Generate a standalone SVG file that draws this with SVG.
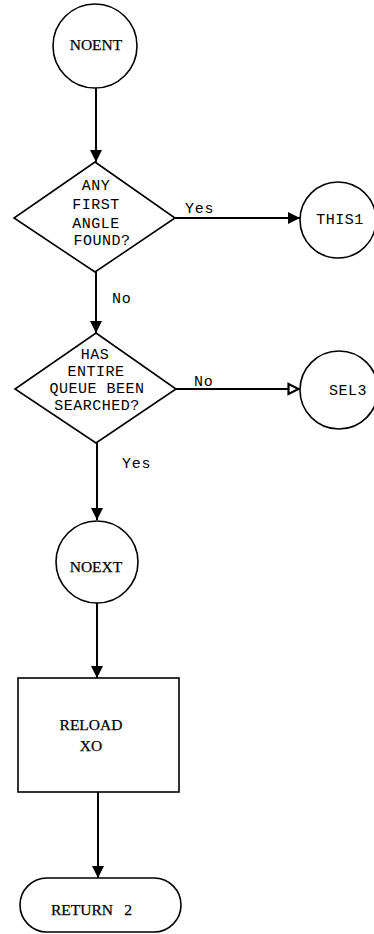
<svg xmlns="http://www.w3.org/2000/svg" width="374" height="934" viewBox="0 0 374 934">
<style>
.shape{fill:#fff;stroke:#000;stroke-width:1.6}
.line{fill:none;stroke:#000;stroke-width:2}
.mono{font-family:"Liberation Mono","DejaVu Sans Mono",monospace;font-size:15px;letter-spacing:0.5px;fill:#000;text-anchor:middle}
.serif{font-family:"Liberation Serif","DejaVu Serif",serif;font-size:15.5px;fill:#000;stroke:#000;stroke-width:0.25;text-anchor:middle}
.lbl{font-family:"Liberation Mono","DejaVu Sans Mono",monospace;font-size:15px;letter-spacing:0.8px;fill:#000}
</style>
<defs>
<marker id="arr" markerUnits="userSpaceOnUse" markerWidth="13" markerHeight="13" refX="12" refY="6.5" orient="auto">
<path d="M0,0.5 L12,6.5 L0,12.5 z" fill="#000"/>
</marker>
<marker id="open" markerUnits="userSpaceOnUse" markerWidth="14" markerHeight="14" refX="12" refY="7" orient="auto">
<path d="M1.5,2 L11.5,7 L1.5,12 z" fill="#fff" stroke="#000" stroke-width="2.2"/>
</marker>
</defs>
<g id="connectors">
<line class="line" x1="96" y1="88" x2="96" y2="162" marker-end="url(#arr)"/>
<line class="line" x1="175" y1="218" x2="300" y2="218" marker-end="url(#arr)"/>
<text class="lbl" x="185" y="213">Yes</text>
<line class="line" x1="96" y1="272" x2="96" y2="333" marker-end="url(#arr)"/>
<text class="lbl" x="112" y="303">No</text>
<line class="line" x1="176" y1="389" x2="299" y2="389" marker-end="url(#open)"/>
<text class="lbl" x="194" y="386">No</text>
<line class="line" x1="97" y1="443" x2="97" y2="520" marker-end="url(#arr)"/>
<text class="lbl" x="122" y="468">Yes</text>
<line class="line" x1="97" y1="603" x2="97" y2="678" marker-end="url(#arr)"/>
<line class="line" x1="98" y1="792" x2="98" y2="878" marker-end="url(#arr)"/>
</g>
<g id="noent">
<circle class="shape" cx="95" cy="46" r="42"/>
<text class="serif" x="96" y="50">NOENT</text>
</g>
<g id="decision1">
<polygon class="shape" points="95,162 175,218 95,272 14,218"/>
<text class="mono" x="96" y="190">ANY</text>
<text class="mono" x="96" y="209">FIRST</text>
<text class="mono" x="96" y="228">ANGLE</text>
<text class="mono" x="102" y="245">FOUND?</text>
</g>
<g id="this1">
<circle class="shape" cx="338" cy="220" r="38"/>
<text class="mono" x="340" y="224">THIS1</text>
</g>
<g id="decision2">
<polygon class="shape" points="96,333 176,389 96,443 15,389"/>
<text class="mono" x="95" y="359">HAS</text>
<text class="mono" x="96" y="376">ENTIRE</text>
<text class="mono" x="97" y="393">QUEUE BEEN</text>
<text class="mono" x="97" y="410">SEARCHED?</text>
</g>
<g id="sel3">
<circle class="shape" cx="339" cy="390" r="39"/>
<text class="mono" x="348" y="395">SEL3</text>
</g>
<g id="noext">
<circle class="shape" cx="97" cy="562" r="41"/>
<text class="serif" x="96" y="572">NOEXT</text>
</g>
<g id="reload">
<rect class="shape" x="18" y="678" width="161" height="114" stroke-width="2"/>
<text class="serif" x="91" y="730">RELOAD</text>
<text class="serif" x="91" y="751">XO</text>
</g>
<g id="return2">
<rect class="shape" x="20" y="878" width="161" height="54" rx="27" ry="27"/>
<text class="serif" x="82" y="915">RETURN</text>
<text class="serif" x="128" y="915">2</text>
</g>
</svg>
